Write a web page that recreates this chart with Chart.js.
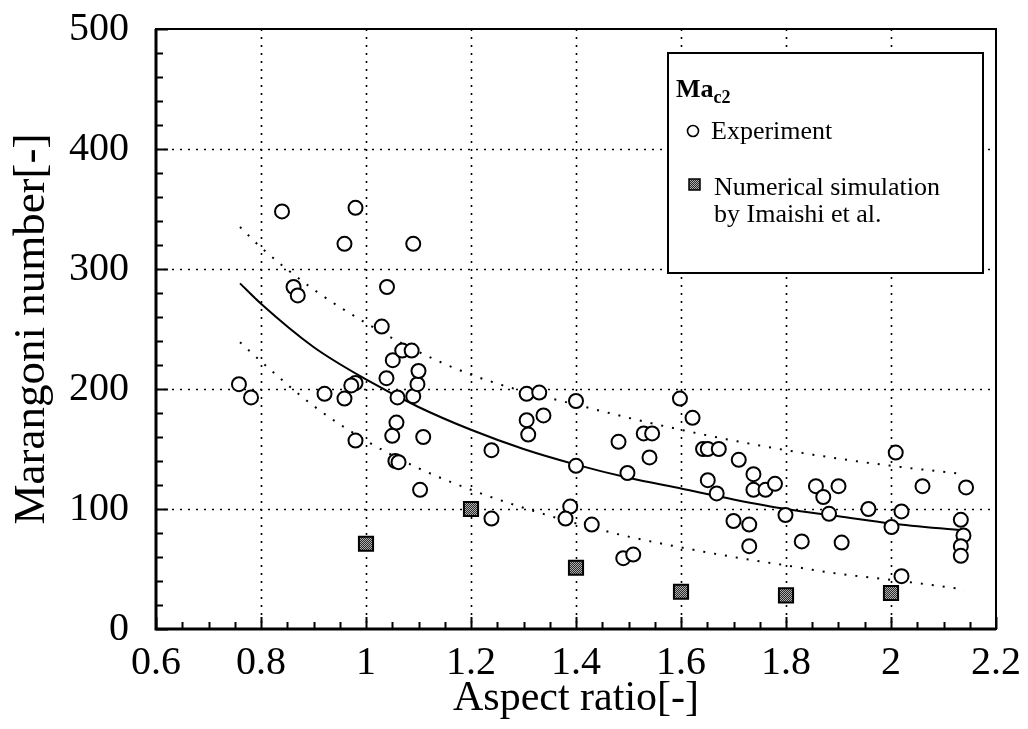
<!DOCTYPE html>
<html>
<head>
<meta charset="utf-8">
<script src="https://cdn.jsdelivr.net/npm/chart.js@4.4.1/dist/chart.umd.min.js"></script>
<style>
html,body{margin:0;padding:0;background:#fff;}
canvas{display:block;}
</style>
</head>
<body>
<canvas id="c" width="1028" height="729"></canvas>
<script>
// ---- Data ----
const expX = [0.758,0.781,0.840,0.862,0.870,0.921,0.959,0.959,0.980,0.980,0.972,0.980,1.030,1.040,1.039,1.051,1.050,1.058,1.060,1.056,1.062,1.069,1.087,1.090,1.090,1.098,1.100,1.103,1.109,1.239,1.239,1.306,1.330,1.306,1.338,1.309,1.400,1.400,1.389,1.380,1.430,1.481,1.498,1.490,1.509,1.529,1.545,1.540,1.598,1.622,1.642,1.651,1.672,1.651,1.668,1.710,1.700,1.738,1.738,1.761,1.779,1.730,1.730,1.799,1.857,1.871,1.900,1.882,1.830,1.906,1.957,2.001,2.020,2.009,2.020,2.060,2.143,2.133,2.138,2.133,2.133];
const expY = [204,193,348,285,278,196,321,192,351,205,203,157,252,285,209,224,161,172,193,140,139,232,232,321,194,204,215,116,160,149,92,196,197,174,178,162,190,136,102,92,87,156,130,59,62,163,163,143,192,176,150,150,150,124,113,141,90,129,116,116,121,87,69,95,119,110,119,96,73,72,100,85,98,147,44,119,118,91,78,69,61];

const simX = [1.0,1.2,1.4,1.6,1.8,2.0];
const simY = [71,100,51,31,28,30];

const fitX     = [0.76,0.8,0.9,1.0,1.1,1.2,1.3,1.4,1.5,1.6,1.7,1.8,1.9,2.0,2.14];
const fitMid   = [288,271,235,208,185,166,150,137,126,117,108,100,94,88,82];
const fitUpper = [335,318,283,255,231,212,198,187,176,166,157,149,142,136,129];
const fitLower = [239,223,186,157,134,116,101,88,77,68,60,53,46,41,33];

const xTickValues = [0.6,0.8,1.0,1.2,1.4,1.6,1.8,2.0,2.2];
const yTickValues = [0,100,200,300,400,500];
const xMinorStep = 0.05;
const yMinorStep = 20;

const legendTitle = 'Ma';
const legendTitleSub = 'c2';
const legendExp = 'Experiment';
const legendSim1 = 'Numerical simulation';
const legendSim2 = 'by Imaishi et al.';
const xTitle = 'Aspect ratio[-]';
const yTitle = 'Marangoni number[-]';

// ---- build ----
const FONT = '"Liberation Serif", "DejaVu Serif", serif';
const canvas = document.getElementById('c');
const ctx = canvas.getContext('2d');

const pc = document.createElement('canvas');
pc.width = 4; pc.height = 4;
const pctx = pc.getContext('2d');
pctx.fillStyle = '#2a2a2a'; pctx.fillRect(0,0,4,4);
pctx.fillStyle = '#b0b0b0'; pctx.fillRect(0,0,1,1); pctx.fillRect(2,0,1,1); pctx.fillRect(1,1,1,1); pctx.fillRect(3,1,1,1);
pctx.fillRect(0,2,1,1); pctx.fillRect(2,2,1,1); pctx.fillRect(1,3,1,1); pctx.fillRect(3,3,1,1);
const squarePattern = ctx.createPattern(pc, 'repeat');

const pts = (xs, ys) => xs.map((x, i) => ({x: x, y: ys[i]}));

const framePlugin = {
  id: 'frame',
  beforeDatasetsDraw(chart) {
    const {ctx, chartArea: a, scales: {x, y}} = chart;
    ctx.save();
    ctx.strokeStyle = '#000';
    ctx.lineWidth = 1.6;
    ctx.setLineDash([2, 6]);
    xTickValues.slice(1, -1).forEach(v => {
      const px = Math.round(x.getPixelForValue(v)) + 0.5;
      ctx.beginPath(); ctx.moveTo(px, a.top); ctx.lineTo(px, a.bottom); ctx.stroke();
    });
    yTickValues.slice(1, -1).forEach(v => {
      const py = Math.round(y.getPixelForValue(v)) + 0.5;
      ctx.beginPath(); ctx.moveTo(a.left, py); ctx.lineTo(a.right, py); ctx.stroke();
    });
    ctx.restore();
  },
  afterDatasetsDraw(chart) {
    const {ctx, chartArea: a, scales: {x, y}} = chart;
    ctx.save();
    ctx.setLineDash([]);
    ctx.strokeStyle = '#000';
    ctx.lineWidth = 2;
    const xMin = xTickValues[0], xMax = xTickValues[xTickValues.length - 1];
    const nx = Math.round((xMax - xMin) / xMinorStep);
    for (let i = 0; i <= nx; i++) {
      const v = xMin + i * xMinorStep;
      const major = i % 4 === 0;
      const px = Math.round(x.getPixelForValue(v)) + 0.5;
      ctx.beginPath(); ctx.moveTo(px, a.bottom); ctx.lineTo(px, a.bottom - (major ? 12 : 7)); ctx.stroke();
    }
    const yMin = yTickValues[0], yMax = yTickValues[yTickValues.length - 1];
    const ny = Math.round((yMax - yMin) / yMinorStep);
    for (let i = 0; i <= ny; i++) {
      const v = yMin + i * yMinorStep;
      const major = i % 5 === 0;
      const py = Math.round(y.getPixelForValue(v)) + 0.5;
      ctx.beginPath(); ctx.moveTo(a.left, py); ctx.lineTo(a.left + (major ? 12 : 7), py); ctx.stroke();
    }
    ctx.lineWidth = 2;
    ctx.strokeRect(a.left, a.top, a.right - a.left, a.bottom - a.top);
    ctx.lineWidth = 3;
    ctx.beginPath(); ctx.moveTo(a.left, a.top); ctx.lineTo(a.left, a.bottom); ctx.lineTo(a.right, a.bottom); ctx.stroke();

    // legend box
    const bx = 668, by = 53, bw = 315, bh = 220;
    ctx.fillStyle = '#fff';
    ctx.fillRect(bx, by, bw, bh);
    ctx.lineWidth = 2;
    ctx.strokeRect(bx, by, bw, bh);
    ctx.fillStyle = '#000';
    ctx.textBaseline = 'alphabetic';
    ctx.textAlign = 'left';
    ctx.font = 'bold 26px ' + FONT;
    ctx.fillText(legendTitle, 676, 97);
    const mw = ctx.measureText(legendTitle).width;
    ctx.font = 'bold 18px ' + FONT;
    ctx.fillText(legendTitleSub, 676 + mw, 103);
    ctx.font = '26px ' + FONT;
    ctx.fillText(legendExp, 711, 139);
    ctx.fillText(legendSim1, 714, 195);
    ctx.fillText(legendSim2, 714, 222);
    ctx.beginPath(); ctx.arc(693, 131, 5.5, 0, Math.PI * 2);
    ctx.fillStyle = '#fff'; ctx.fill(); ctx.lineWidth = 1.6; ctx.stroke();
    ctx.fillStyle = squarePattern;
    ctx.fillRect(689, 179, 11, 11);
    ctx.lineWidth = 1.5; ctx.strokeRect(689, 179, 11, 11);
    ctx.restore();
  }
};

new Chart(ctx, {
  type: 'scatter',
  data: {
    datasets: [
      {
        label: 'fit', type: 'line', data: pts(fitX, fitMid), showLine: true,
        borderColor: '#000', borderWidth: 2, pointRadius: 0, fill: false,
        cubicInterpolationMode: 'monotone', order: 5
      },
      {
        label: 'upper', type: 'line', data: pts(fitX, fitUpper), showLine: true,
        borderColor: '#000', borderWidth: 2, borderDash: [2, 9], pointRadius: 0, fill: false,
        cubicInterpolationMode: 'monotone', order: 5
      },
      {
        label: 'lower', type: 'line', data: pts(fitX, fitLower), showLine: true,
        borderColor: '#000', borderWidth: 2, borderDash: [2, 9], pointRadius: 0, fill: false,
        cubicInterpolationMode: 'monotone', order: 5
      },
      {
        label: legendExp, data: pts(expX, expY), pointStyle: 'circle', pointRadius: 7,
        backgroundColor: 'rgba(255,255,255,1)', borderColor: '#000', borderWidth: 2, order: 1
      },
      {
        label: legendSim1, data: pts(simX, simY), pointStyle: 'rect', pointRadius: 10,
        backgroundColor: squarePattern, borderColor: '#000', borderWidth: 2, order: 0
      }
    ]
  },
  options: {
    responsive: false,
    animation: false,
    devicePixelRatio: 1,
    layout: { padding: { left: 0, right: 32, top: 29, bottom: 0 } },
    plugins: { legend: { display: false }, tooltip: { enabled: false } },
    scales: {
      x: {
        type: 'linear', min: 0.6, max: 2.2,
        afterBuildTicks: s => { s.ticks = xTickValues.map(v => ({value: v})); },
        afterFit: s => { s.height = 100; s.paddingLeft = 0; s.paddingRight = 0; },
        grid: { display: false, drawTicks: false },
        border: { display: false },
        ticks: {
          color: '#000', padding: 10, maxRotation: 0, autoSkip: false,
          font: { family: FONT, size: 40 },
          callback: v => String(Number(Number(v).toFixed(1)))
        },
        title: {
          display: true, text: xTitle, color: '#000',
          font: { family: FONT, size: 42, lineHeight: 1 },
          padding: { top: 0, bottom: 9 }
        }
      },
      y: {
        type: 'linear', min: 0, max: 500,
        afterBuildTicks: s => { s.ticks = yTickValues.map(v => ({value: v})); },
        afterFit: s => { s.width = 156; s.paddingTop = 0; s.paddingBottom = 0; },
        grid: { display: false, drawTicks: false },
        border: { display: false },
        ticks: {
          color: '#000', padding: 27, autoSkip: false,
          font: { family: FONT, size: 40 },
          callback: v => String(v)
        },
        title: {
          display: true, text: yTitle, color: '#000',
          font: { family: FONT, size: 45, lineHeight: 1 },
          padding: { top: 10, bottom: 0 }
        }
      }
    }
  },
  plugins: [framePlugin]
});
</script>
</body>
</html>
